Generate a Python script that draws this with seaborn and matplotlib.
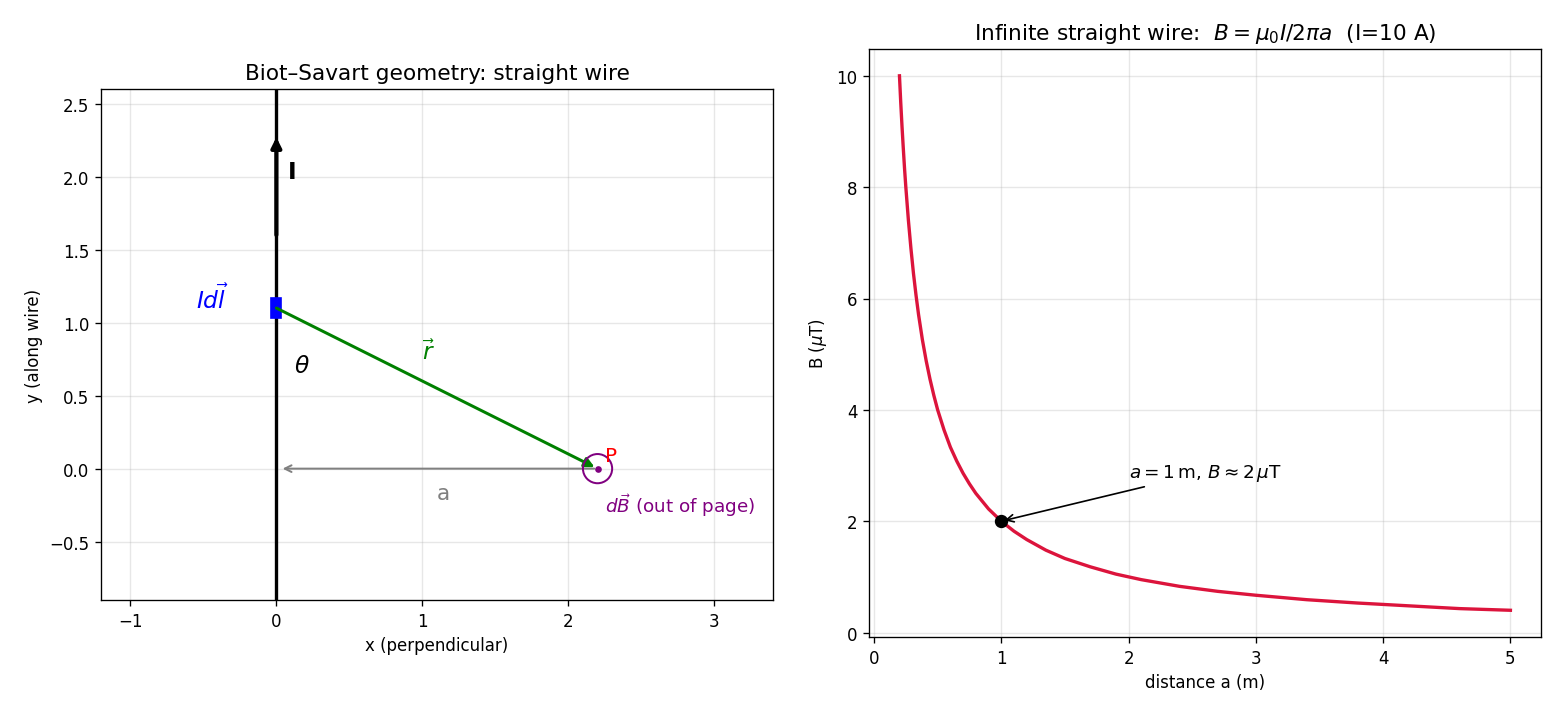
import numpy as np
import pandas as pd
import matplotlib
matplotlib.use("Agg")
import matplotlib.pyplot as plt
import seaborn as sns
from matplotlib.patches import Rectangle, Circle

# geometry (left panel)
wire_x = [0, 0]
wire_y = [-0.9, 2.6]
elem_pos = (0.0, 1.1)
point_p = (2.2, 0.0)

# field curve: distance a (m), B (uT)
dist_a = [0.2, 0.21, 0.22, 0.23, 0.24, 0.25, 0.27, 0.29, 0.31, 0.33, 0.35, 0.38, 0.41, 0.44,
          0.47, 0.5, 0.55, 0.6, 0.65, 0.7, 0.75, 0.8, 0.9, 1.0, 1.1, 1.2, 1.35, 1.5, 1.7,
          1.9, 2.1, 2.4, 2.7, 3.0, 3.4, 3.8, 4.2, 4.6, 5.0]
b_field = [10.0, 9.52, 9.09, 8.70, 8.33, 8.0, 7.41, 6.90, 6.45, 6.06, 5.71, 5.26, 4.88, 4.55,
           4.26, 4.0, 3.64, 3.33, 3.08, 2.86, 2.67, 2.5, 2.22, 2.0, 1.82, 1.67, 1.48, 1.33, 1.18,
           1.05, 0.95, 0.83, 0.74, 0.67, 0.59, 0.53, 0.48, 0.43, 0.4]
mark_a, mark_b = 1.0, 2.0

fig = plt.figure(figsize=(13, 5.958), dpi=120)
ax1 = fig.add_axes([0.0647, 0.1594, 0.4308, 0.7147])
ax2 = fig.add_axes([0.557, 0.1077, 0.4308, 0.8223])

# ---- left: Biot-Savart geometry
ax1.plot(wire_x, wire_y, color="black", lw=2)
ax1.annotate("", xy=(0, 2.27), xytext=(0, 1.6),
             arrowprops=dict(arrowstyle="-|>", color="black", lw=2.5, mutation_scale=12,
                             shrinkA=0, shrinkB=0))
ax1.text(0.08, 1.99, "I", fontsize=14, fontweight="bold")

ax1.add_patch(Rectangle((elem_pos[0] - 0.035, elem_pos[1] - 0.07), 0.07, 0.14, color="blue", zorder=3))
ax1.text(-0.55, 1.1, r"$Id\vec{l}$", color="blue", fontsize=14)

ax1.annotate("", xy=(point_p[0] - 0.02, point_p[1] + 0.01), xytext=elem_pos,
             arrowprops=dict(arrowstyle="-|>", color="green", lw=1.8, mutation_scale=12,
                             shrinkA=0, shrinkB=0))
ax1.text(1.0, 0.75, r"$\vec{r}$", color="green", fontsize=14)
ax1.text(0.12, 0.66, r"$\theta$", fontsize=14)

ax1.annotate("", xy=(0.02, 0), xytext=point_p,
             arrowprops=dict(arrowstyle="->", color="gray", lw=1.2))
ax1.text(1.1, -0.21, "a", color="gray", fontsize=13)

ax1.add_patch(Circle(point_p, 0.1, fill=False, edgecolor="purple", lw=1.2, zorder=3))
ax1.plot(*point_p, "o", color="purple", ms=3)
ax1.text(point_p[0] + 0.05, point_p[1] + 0.05, "P", color="red", fontsize=12)
ax1.text(point_p[0] + 0.05, point_p[1] - 0.3, r"$d\vec{B}$ (out of page)", color="purple", fontsize=11)

ax1.set_xlim(-1.2, 3.4)
ax1.set_ylim(-0.9, 2.6)
ax1.set_aspect("equal")
ax1.grid(alpha=0.3)
ax1.set_title("Biot\u2013Savart geometry: straight wire", fontsize=13)
ax1.set_xlabel("x (perpendicular)")
ax1.set_ylabel("y (along wire)")

# ---- right: B vs distance
df = pd.DataFrame({"a": dist_a, "B": b_field})
sns.lineplot(data=df, x="a", y="B", ax=ax2, color="crimson", lw=2)
ax2.plot(mark_a, mark_b, "o", color="black", ms=7)
ax2.annotate(r"$a=1\,$m, $B\approx 2\,\mu$T", xy=(mark_a, mark_b), xytext=(2.0, 2.8),
             fontsize=11, arrowprops=dict(arrowstyle="->", color="black", lw=1))
ax2.grid(alpha=0.3)
ax2.set_title(r"Infinite straight wire:  $B=\mu_0 I/2\pi a$  (I=10 A)", fontsize=13)
ax2.set_xlabel("distance a (m)")
ax2.set_ylabel(r"B ($\mu$T)")

fig.savefig("out.png", dpi=120)
